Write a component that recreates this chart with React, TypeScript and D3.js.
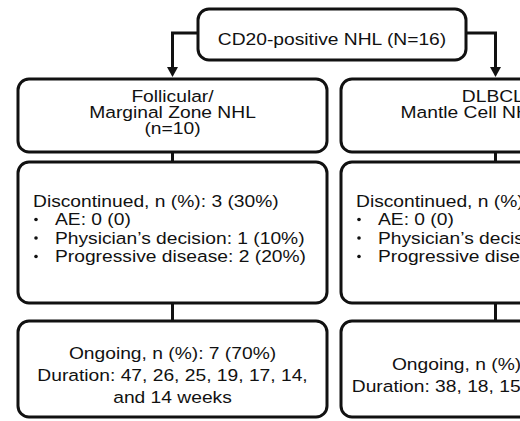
import * as d3 from 'd3';

// flowchart content
const topLabel = 'CD20-positive NHL (N=16)';
const groups = ['FL/MZL', 'DLBCL/MCL'];
const groupHeaders = [
  ['Follicular/', 'Marginal Zone NHL', '(n=10)'],
  ['DLBCL/', 'Mantle Cell NHL (n=6)'],
];
const discontinuedLines = ['Discontinued, n (%): 3 (30%)', 'Discontinued, n (%): 2 (33%)'];
const reasonLines = [
  ['AE: 0 (0)', 'Physician\u2019s decision: 1 (10%)', 'Progressive disease: 2 (20%)'],
  ['AE: 0 (0)', 'Physician\u2019s decision: 0 (0)', 'Progressive disease: 2 (33%)'],
];
const ongoingLines = [
  ['Ongoing, n (%): 7 (70%)', 'Duration: 47, 26, 25, 19, 17, 14,', 'and 14 weeks'],
  ['Ongoing, n (%): 4 (67%)', 'Duration: 38, 18, 15, and 8 weeks'],
];

const W = 520;
const H = 421;
const SX = 1.18; // source text is horizontally stretched
const FONT = "Arial, 'Liberation Sans', sans-serif";
const FS = 16.3;
const INK = '#111';

// rows of the flowchart
const rows = {
  top: { y0: 9, y1: 60 },
  header: { y0: 79, y1: 152 },
  disc: { y0: 162, y1: 303 },
  ongoing: { y0: 321, y1: 417 },
};

const x = d3.scaleBand<string>().domain(groups).range([18, 650]).paddingInner(14 / 323).paddingOuter(0);

function Txt({ x, y, anchor = 'middle', children }: { x: number; y: number; anchor?: string; children: string }) {
  return (
    <text
      transform={`translate(${x},${y}) scale(${SX},1)`}
      textAnchor={anchor}
      fontFamily={FONT}
      fontSize={FS}
      fill={INK}
    >
      {children}
    </text>
  );
}

function Box({ x0, x1, y0, y1 }: { x0: number; x1: number; y0: number; y1: number }) {
  return <rect x={x0} y={y0} width={x1 - x0} height={y1 - y0} rx={11} ry={11} fill="#fff" stroke={INK} strokeWidth={3} />;
}

export default function App() {
  const bw = x.bandwidth();
  const topX0 = 198;
  const topX1 = 466;
  const armY = 33;
  const line = d3.line();

  return (
    <svg width={W} height={H} style={{ position: 'absolute', left: 0, top: 0, background: '#fff' }}>
      {/* connectors */}
      {groups.map((g) => {
        const cx = (x(g) ?? 0) + bw / 2;
        const fromLeft = cx < (topX0 + topX1) / 2;
        const sx = fromLeft ? topX0 : topX1;
        const tipY = rows.header.y0 - 2;
        return (
          <g key={`c-${g}`}>
            <path d={line([[sx, armY], [cx, armY], [cx, tipY - 8]]) ?? ''} fill="none" stroke={INK} strokeWidth={3} />
            <path d={`M${cx - 5.5},${tipY - 10}L${cx + 5.5},${tipY - 10}L${cx},${tipY}Z`} fill={INK} />
            <path d={line([[cx, rows.header.y1], [cx, rows.disc.y0]]) ?? ''} stroke={INK} strokeWidth={3} />
            <path d={line([[cx, rows.disc.y1], [cx, rows.ongoing.y0]]) ?? ''} stroke={INK} strokeWidth={3} />
          </g>
        );
      })}

      {/* top box */}
      <Box x0={topX0} x1={topX1} y0={rows.top.y0} y1={rows.top.y1} />
      <Txt x={(topX0 + topX1) / 2} y={45}>{topLabel}</Txt>

      {groups.map((g, i) => {
        const x0 = x(g) ?? 0;
        const x1 = x0 + bw;
        const cx = x0 + bw / 2;
        const n = ongoingLines[i].length;
        const oMid = (rows.ongoing.y0 + rows.ongoing.y1) / 2 + 11.5;
        return (
          <g key={g}>
            <Box x0={x0} x1={x1} y0={rows.header.y0} y1={rows.header.y1} />
            {groupHeaders[i].map((t, j) => (
              <Txt key={t} x={cx} y={101.5 + j * 16}>{t}</Txt>
            ))}

            <Box x0={x0} x1={x1} y0={rows.disc.y0} y1={rows.disc.y1} />
            <Txt x={x0 + 15} y={206.5} anchor="start">{discontinuedLines[i]}</Txt>
            {reasonLines[i].map((t, j) => (
              <g key={t}>
                <circle cx={x0 + 18} cy={225 + j * 18.5 - 5.5} r={1.8} fill={INK} />
                <Txt x={x0 + 37} y={225 + j * 18.5} anchor="start">{t}</Txt>
              </g>
            ))}

            <Box x0={x0} x1={x1} y0={rows.ongoing.y0} y1={rows.ongoing.y1} />
            {ongoingLines[i].map((t, j) => (
              <Txt key={t} x={cx} y={oMid + (j - (n - 1) / 2) * 22}>{t}</Txt>
            ))}
          </g>
        );
      })}
    </svg>
  );
}
